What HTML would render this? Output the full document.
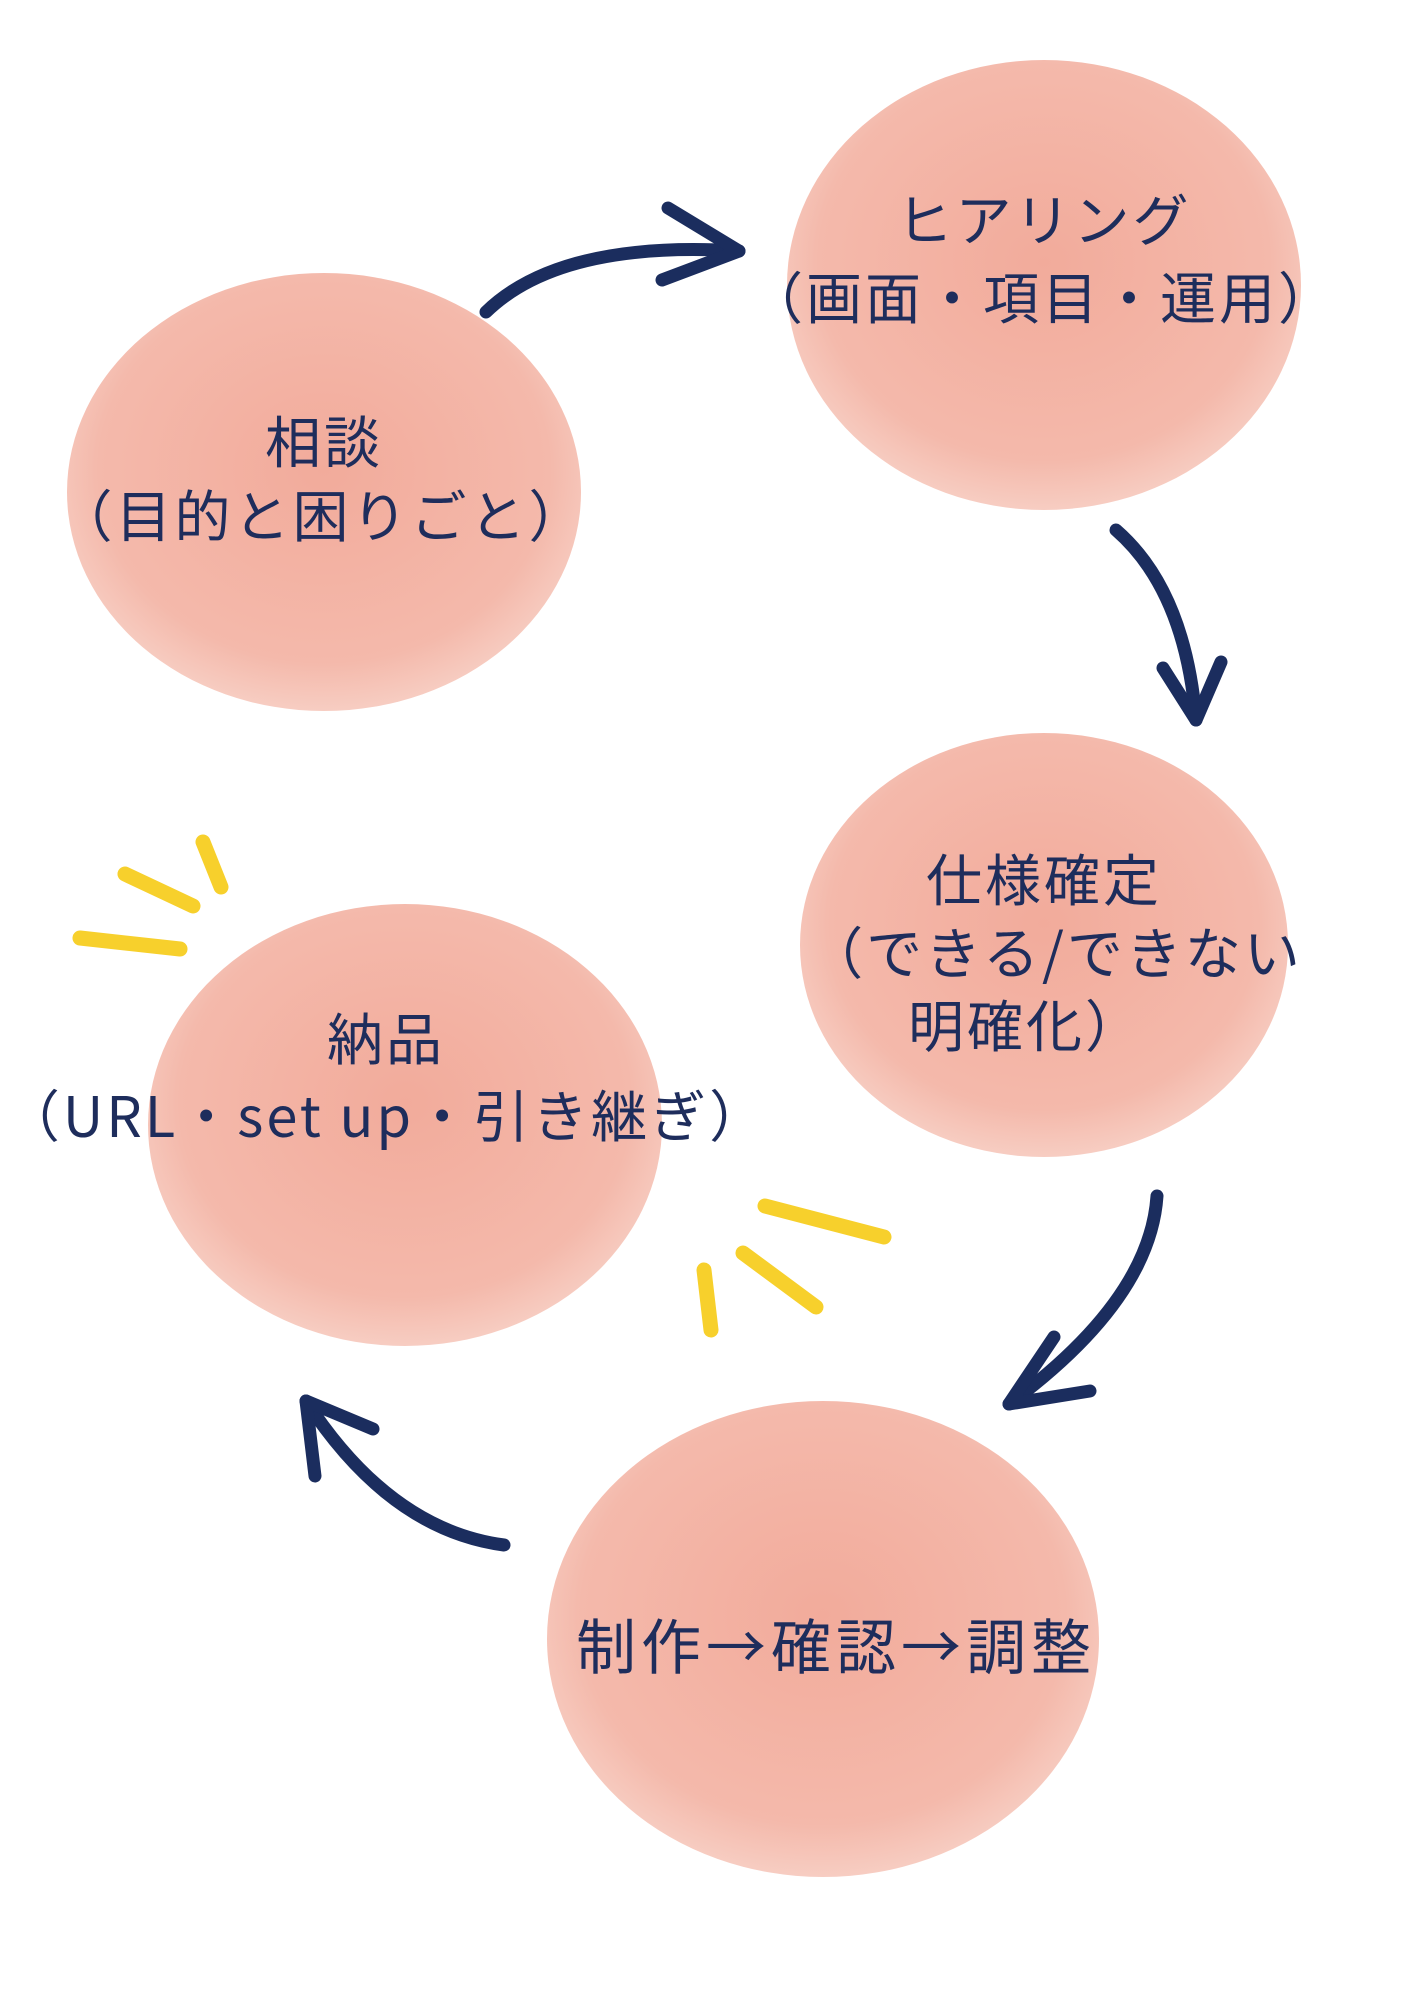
<!DOCTYPE html>
<html><head><meta charset="utf-8"><style>
html,body{margin:0;padding:0;background:#fff;}
svg{display:block}
text{font-family:"Noto Sans CJK JP","Liberation Sans",sans-serif;fill:#1e2d5c;font-size:56px;letter-spacing:3px;text-anchor:middle;}
</style></head><body>
<svg width="1414" height="2000" viewBox="0 0 1414 2000" xmlns="http://www.w3.org/2000/svg">
<defs>
<radialGradient id="g" cx="50%" cy="45%" r="55%">
<stop offset="0" stop-color="#f2ab9b"/>
<stop offset="0.8" stop-color="#f4b9ab"/>
<stop offset="1" stop-color="#f7cdc2"/>
</radialGradient>
</defs>
<ellipse cx="324" cy="492" rx="257" ry="219" fill="url(#g)"/>
<ellipse cx="1044" cy="285" rx="257" ry="225" fill="url(#g)"/>
<ellipse cx="1044" cy="945" rx="244" ry="212" fill="url(#g)"/>
<ellipse cx="405" cy="1125" rx="257" ry="221" fill="url(#g)"/>
<ellipse cx="823" cy="1639" rx="276" ry="238" fill="url(#g)"/>

<text x="324" y="463">相談</text>
<text x="322" y="537">（目的と困りごと）</text>
<text x="1044" y="241">ヒアリング</text>
<text x="1042" y="319">（画面・項目・運用）</text>
<text x="1044" y="901">仕様確定</text>
<text x="1055" y="974">（できる/できない</text>
<text x="1026" y="1047">明確化）</text>
<text x="386" y="1060">納品</text>
<text x="386" y="1137">（URL・set up・引き継ぎ）</text>
<text x="836" y="1669" style="font-size:60px;letter-spacing:5px">制作→確認→調整</text>

<g fill="none" stroke="#1b2d5e" stroke-width="13" stroke-linecap="round" stroke-linejoin="round">
<path d="M486 312 Q560 240 739 251"/>
<path d="M668 208 L739 251 L662 280"/>
<path d="M1116 530 Q1185 590 1196 720"/>
<path d="M1163 668 L1196 720 L1221 662"/>
<path d="M1157 1196 Q1150 1300 1009 1404"/>
<path d="M1054 1337 L1009 1404 L1090 1391"/>
<path d="M504 1545 Q390 1530 306 1401"/>
<path d="M315 1476 L306 1401 L373 1429"/>
</g>
<g stroke="#f7d02c" stroke-width="15" stroke-linecap="round">
<line x1="80" y1="938" x2="180" y2="949"/>
<line x1="125" y1="874" x2="193" y2="906"/>
<line x1="203" y1="842" x2="221" y2="887"/>
<line x1="765" y1="1206" x2="884" y2="1237"/>
<line x1="743" y1="1253" x2="816" y2="1307"/>
<line x1="704" y1="1270" x2="711" y2="1330"/>
</g>
</svg>
</body></html>
